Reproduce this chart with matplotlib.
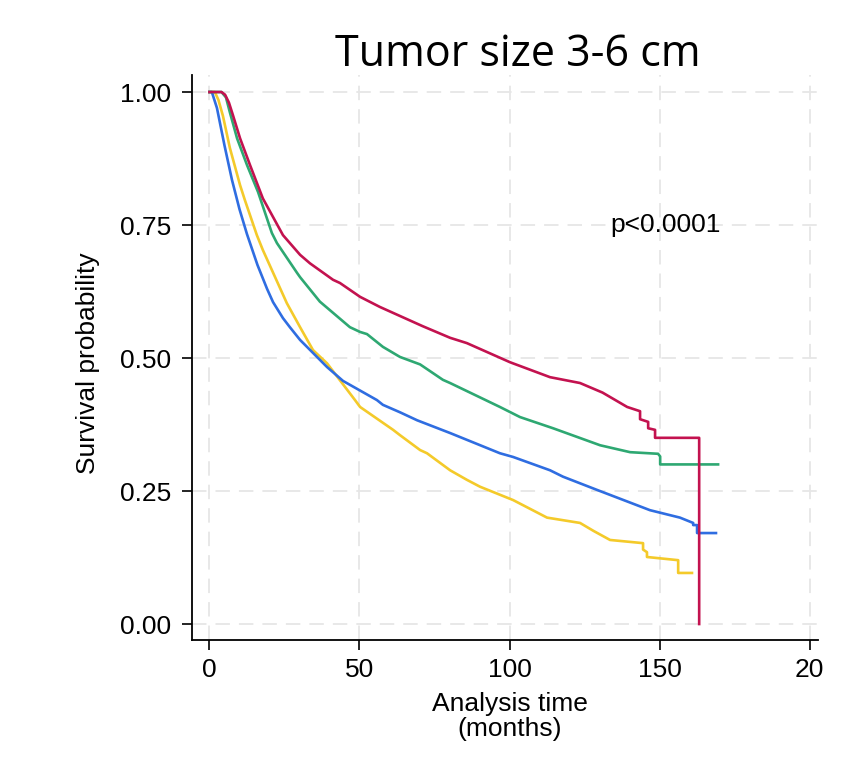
import matplotlib
matplotlib.use("Agg")
import matplotlib.pyplot as plt

plt.rcParams['font.family'] = ['Liberation Sans', 'DejaVu Sans']

# Kaplan-Meier curves (time in months, survival probability)
red_t = [0, 4, 5.2, 6.5, 7.8, 10.2, 13.5, 17.8, 24.5, 30.2, 33.5, 41.2, 43.5, 50.2, 56.8, 63.5, 71, 80.2, 85.8,
         100.2, 113.5, 123.5, 131, 139.2, 143.5, 143.5, 146.2, 146.2, 148.5, 148.5, 163.2, 163.2]
red_s = [1.0, 1.0, 0.995, 0.98, 0.957, 0.913, 0.863, 0.80, 0.731, 0.694, 0.678, 0.647, 0.641, 0.615, 0.596, 0.579, 0.56, 0.538, 0.528,
         0.492, 0.464, 0.453, 0.435, 0.408, 0.40, 0.385, 0.38, 0.368, 0.365, 0.35, 0.35, 0.0]

green_t = [0, 4, 5.5, 6.8, 9.2, 12.5, 16.2, 20.8, 22.5, 29.2, 30.2, 36.8, 46.8, 50.2, 52.5, 57.8, 63.5, 70.2, 77.8,
           80.2, 96.8, 103.5, 114.5, 130.2, 140.2, 149.5, 150.2, 150.2, 169.5]
green_s = [1.0, 1.0, 0.99, 0.962, 0.913, 0.863, 0.812, 0.735, 0.716, 0.66, 0.652, 0.606, 0.558, 0.549, 0.545, 0.521, 0.502, 0.488, 0.459,
           0.453, 0.408, 0.389, 0.368, 0.336, 0.323, 0.32, 0.315, 0.30, 0.30]

blue_t = [0, 0.8, 2.5, 5, 7.5, 10, 12.5, 16, 19.2, 21.2, 24.5, 26.8, 30.2, 32.5, 39.2, 44.5, 55.8, 57.8, 63.5, 69.2, 80.2,
          96.8, 101.2, 113.5, 117.8, 129.2, 146.8, 156.8, 161.2, 161.2, 162.5, 162.5, 168.8]
blue_s = [1.0, 1.0, 0.97, 0.90, 0.835, 0.78, 0.733, 0.675, 0.63, 0.605, 0.575, 0.558, 0.534, 0.521, 0.483, 0.457, 0.421, 0.412, 0.398, 0.383, 0.359,
          0.321, 0.314, 0.289, 0.277, 0.252, 0.214, 0.20, 0.19, 0.186, 0.186, 0.171, 0.171]

yellow_t = [0, 1.8, 3, 4.5, 6.8, 10.2, 11.8, 15.8, 17.8, 25.8, 30.2, 34.5, 39.2, 48.5, 50.2, 61.2, 63.5, 70.2, 72.5,
            80.2, 85.8, 90.2, 101.2, 112.5, 123.5, 128, 133.5, 144.5, 144.5, 145.8, 145.8, 156.2, 156.2, 160.8]
yellow_s = [1.0, 1.0, 0.985, 0.955, 0.895, 0.825, 0.797, 0.731, 0.703, 0.603, 0.558, 0.515, 0.49, 0.421, 0.408, 0.365, 0.355, 0.327, 0.321,
            0.289, 0.271, 0.258, 0.233, 0.20, 0.19, 0.175, 0.158, 0.152, 0.14, 0.135, 0.126, 0.12, 0.096, 0.096]

x_ticks = [0, 50, 100, 150, 200]
x_labels = ['0', '50', '100', '150', '20']
y_ticks = [0, 0.25, 0.5, 0.75, 1.0]
y_labels = ['0.00', '0.25', '0.50', '0.75', '1.00']

fig = plt.figure(figsize=(8.52, 7.78), dpi=100)
ax = fig.add_axes([0.2254, 0.1774, 0.7347, 0.7262])

for v in x_ticks:
    ax.axvline(v, color='#e6e6e6', lw=1.3, ls=(0, (8, 5)), zorder=0)
for v in y_ticks:
    ax.axhline(v, color='#e6e6e6', lw=1.3, ls=(0, (8, 5)), zorder=0)

ax.plot(yellow_t, yellow_s, color='#F4CA2A', lw=1.9)
ax.plot(blue_t, blue_s, color='#2F6DE1', lw=1.9)
ax.plot(green_t, green_s, color='#2EA872', lw=1.9)
ax.plot(red_t, red_s, color='#C3124F', lw=1.9)

ax.set_xlim(-5.8, 202.8)
ax.set_ylim(-0.03, 1.032)
ax.set_xticks(x_ticks)
ax.set_xticklabels(x_labels, fontsize=19)
ax.set_yticks(y_ticks)
ax.set_yticklabels(y_labels, fontsize=19)
ax.tick_params(direction='out', length=7, width=1.2, colors='black')
ax.tick_params(axis='y', pad=8)
ax.tick_params(axis='x', pad=6)
for side in ['top', 'right']:
    ax.spines[side].set_visible(False)
for side in ['left', 'bottom']:
    ax.spines[side].set_linewidth(1.3)

ax.set_xlabel('Analysis time\n(months)', fontsize=19, linespacing=1.05, va='top')
ax.xaxis.set_label_coords(0.508, -0.092)
ax.set_ylabel('Survival probability', fontsize=19)
ax.yaxis.set_label_coords(-0.147, 0.49)
ax.text(133.5, 0.75, 'p<0.0001', fontsize=19, va='center', ha='left')

fig.text(518 / 852, 1 - 55 / 778, 'Tumor size 3-6 cm', fontsize=31,
         ha='center', va='center', family=['Open Sans', 'DejaVu Sans'])

fig.savefig('out.png', dpi=100)
